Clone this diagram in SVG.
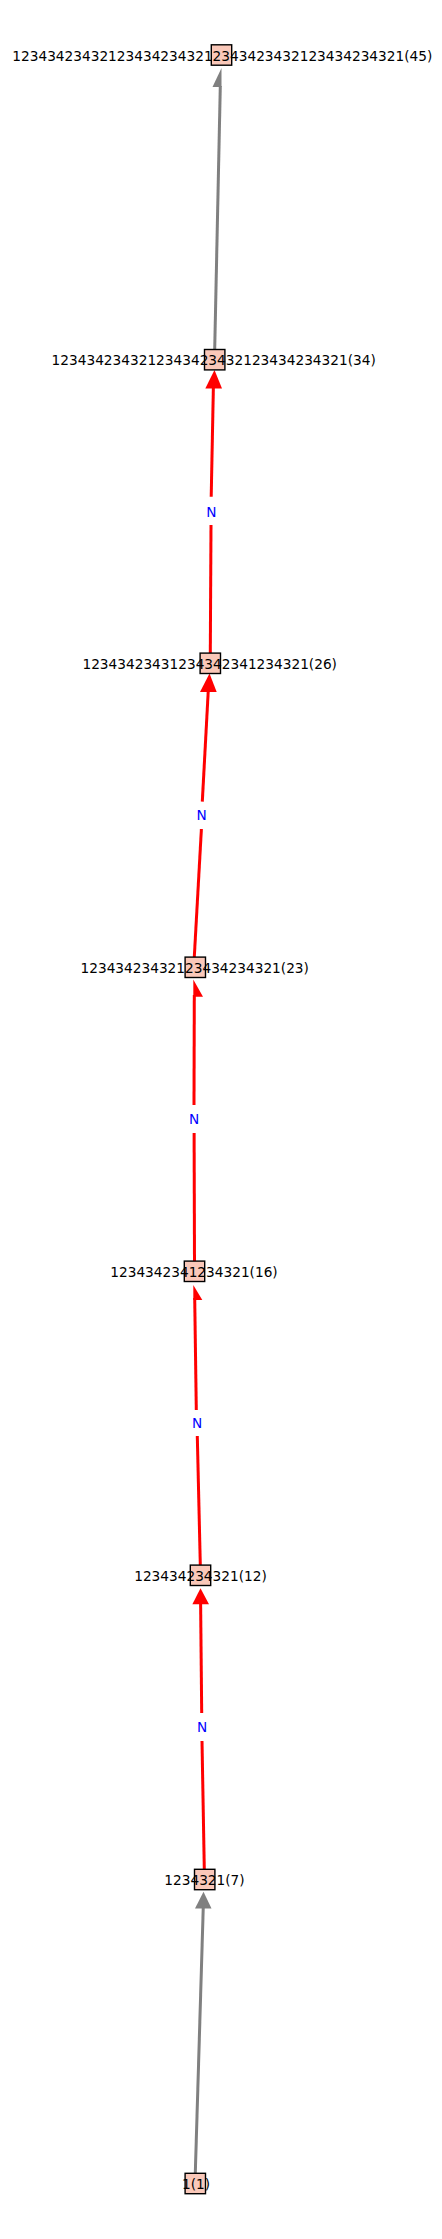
<svg xmlns="http://www.w3.org/2000/svg" width="442" height="2239" viewBox="0 0 442 2239">
<style>
.box{fill:#fac8b9;stroke:#000;stroke-width:1.4}
.lbl{font-family:"DejaVu Sans",sans-serif;font-size:13.7px;fill:#000;text-anchor:middle}
.el{font-family:"DejaVu Sans",sans-serif;font-size:13.7px;fill:#0000ff;text-anchor:middle}
.red{stroke:#ff0000;stroke-width:3;fill:none}
.gray{stroke:#808080;stroke-width:3;fill:none}
.redh{fill:#ff0000}
.grayh{fill:#808080}
</style>
<rect width="442" height="2239" fill="#fff"/>
<g id="connectors">
  <g id="e34-45">
    <line class="gray" x1="214.7" y1="349.5" x2="220.3" y2="86"/>
    <polygon class="grayh" points="221.5,68 212.5,87 221.5,87"/>
  </g>
  <g id="e26-34">
    <line class="red" x1="210.3" y1="653" x2="211" y2="525"/>
    <line class="red" x1="211.2" y1="496.7" x2="213.4" y2="386"/>
    <polygon class="redh" points="214.5,370 205.3,388.5 222,388.5"/>
    <text class="el" x="211.3" y="516.7">N</text>
  </g>
  <g id="e23-26">
    <line class="red" x1="194.3" y1="957" x2="201.4" y2="829"/>
    <line class="red" x1="202.3" y1="801.7" x2="208.3" y2="690"/>
    <polygon class="redh" points="209.5,673.5 200,692 216.7,692"/>
    <text class="el" x="201.7" y="820">N</text>
  </g>
  <g id="e16-23">
    <line class="red" x1="194.5" y1="1261" x2="194.1" y2="1133"/>
    <line class="red" x1="194" y1="1105" x2="194.3" y2="995"/>
    <polygon class="redh" points="193.3,979.5 203,996.7 193.3,996.7"/>
    <text class="el" x="194.2" y="1124">N</text>
  </g>
  <g id="e12-16">
    <line class="red" x1="200.3" y1="1565" x2="197.3" y2="1436"/>
    <line class="red" x1="196.3" y1="1410" x2="194.7" y2="1298"/>
    <polygon class="redh" points="193.3,1285 202.3,1300 193.3,1300"/>
    <text class="el" x="197.2" y="1428">N</text>
  </g>
  <g id="e7-12">
    <line class="red" x1="204.3" y1="1869" x2="202" y2="1741"/>
    <line class="red" x1="201.7" y1="1713" x2="200.6" y2="1602"/>
    <polygon class="redh" points="200.5,1588.3 192.4,1604.3 209,1604.3"/>
    <text class="el" x="202" y="1732">N</text>
  </g>
  <g id="e1-7">
    <line class="gray" x1="195.3" y1="2173" x2="203.3" y2="1906"/>
    <polygon class="grayh" points="203.5,1891.7 195,1908.5 211.5,1908.5"/>
  </g>
</g>
<g id="n45">
  <rect class="box" x="211.3" y="44.8" width="20.4" height="20.4"/>
  <text class="lbl" x="222.3" y="61">123434234321234342343212343423432123434234321(45)</text>
</g>
<g id="n34">
  <rect class="box" x="204.5" y="349.5" width="20.4" height="20.4"/>
  <text class="lbl" x="213.7" y="365">1234342343212343423432123434234321(34)</text>
</g>
<g id="n26">
  <rect class="box" x="200.1" y="653.1" width="20.4" height="20.4"/>
  <text class="lbl" x="209.7" y="668.5">12343423431234342341234321(26)</text>
</g>
<g id="n23">
  <rect class="box" x="185.1" y="957.1" width="20.4" height="20.4"/>
  <text class="lbl" x="194.7" y="972.5">12343423432123434234321(23)</text>
</g>
<g id="n16">
  <rect class="box" x="184.3" y="1261.1" width="20.4" height="20.4"/>
  <text class="lbl" x="194" y="1276.5">1234342341234321(16)</text>
</g>
<g id="n12">
  <rect class="box" x="190.3" y="1565.1" width="20.4" height="20.4"/>
  <text class="lbl" x="200.5" y="1580.5">123434234321(12)</text>
</g>
<g id="n7">
  <rect class="box" x="194.5" y="1869.3" width="20.4" height="20.4"/>
  <text class="lbl" x="204.5" y="1884.7">1234321(7)</text>
</g>
<g id="n1">
  <rect class="box" x="185.1" y="2173.3" width="20.4" height="20.4"/>
  <text class="lbl" x="196" y="2188.7">1(1)</text>
</g>
</svg>
